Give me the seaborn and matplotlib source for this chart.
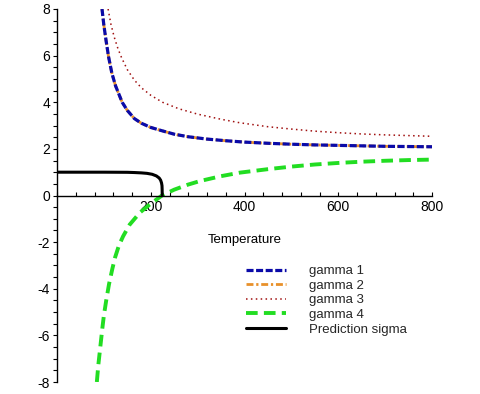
import numpy as np
import pandas as pd
import matplotlib
matplotlib.use("Agg")
import matplotlib.pyplot as plt
from matplotlib.ticker import MultipleLocator
import seaborn as sns

# values
t_gamma1 = [96, 100, 105, 110, 117, 125, 139, 150, 165, 180, 200, 220, 250, 280, 320,
            360, 400, 450, 500, 550, 600, 650, 700, 750, 800]
v_gamma1 = [8.0, 7.3, 6.6, 5.95, 5.25, 4.7, 4.0, 3.65, 3.3, 3.1, 2.92, 2.8, 2.63, 2.52, 2.42,
            2.35, 2.29, 2.24, 2.2, 2.17, 2.15, 2.13, 2.11, 2.1, 2.09]

t_gamma2 = t_gamma1
v_gamma2 = v_gamma1

t_gamma3 = [109, 115, 122, 130, 138, 150, 165, 180, 200, 225, 260, 300, 350, 390, 450,
            500, 550, 603, 650, 700, 750, 800]
v_gamma3 = [8.0, 7.35, 6.8, 6.3, 5.9, 5.4, 4.95, 4.62, 4.3, 4.0, 3.72, 3.49, 3.27, 3.12, 2.95,
            2.85, 2.76, 2.69, 2.64, 2.6, 2.57, 2.54]

t_gamma4 = [85, 88, 91, 94, 97, 100, 105, 111, 118, 124, 132, 141, 155, 177, 200, 224,
            250, 280, 305, 350, 390, 450, 500, 550, 603, 650, 700, 750, 800]
v_gamma4 = [-8.0, -7.3, -6.75, -6.2, -5.65, -5.15, -4.5, -3.8, -3.15, -2.65, -2.15, -1.75,
            -1.25, -0.73, -0.35, 0.0, 0.25, 0.47, 0.62, 0.83, 0.98, 1.13, 1.24, 1.33, 1.4,
            1.45, 1.49, 1.52, 1.54]

t_sigma = [0, 100, 150, 165, 180, 192, 203, 212, 218, 221, 223, 224, 224.3, 224.5]
v_sigma = [1.0, 1.0, 0.995, 0.985, 0.97, 0.95, 0.91, 0.84, 0.75, 0.66, 0.54, 0.42, 0.25, 0.0]

labels = ["gamma 1", "gamma 2", "gamma 3", "gamma 4", "Prediction sigma"]

sns.set_theme(style="white")
plt.rcParams["font.family"] = ["Liberation Sans", "DejaVu Sans"]
plt.rcParams["axes.unicode_minus"] = False

fig = plt.figure(figsize=(4.8, 3.94), dpi=100)
ax = fig.add_axes([57 / 480, 1 - 382 / 394, (432 - 57) / 480, (382 - 9) / 394])

# gamma 2 sits underneath gamma 1
sns.lineplot(x=t_gamma2, y=v_gamma2, ax=ax, sort=False, estimator=None,
             color="#e8902a", lw=2.0, label=labels[1])
sns.lineplot(x=t_gamma1, y=v_gamma1, ax=ax, sort=False, estimator=None,
             color="#0a0aa8", lw=2.3, label=labels[0])
sns.lineplot(x=t_gamma3, y=v_gamma3, ax=ax, sort=False, estimator=None,
             color="#a01010", lw=1.1, label=labels[2])
sns.lineplot(x=t_gamma4, y=v_gamma4, ax=ax, sort=False, estimator=None,
             color="#22dd22", lw=2.8, label=labels[3])
sns.lineplot(x=t_sigma, y=v_sigma, ax=ax, sort=False, estimator=None,
             color="black", lw=2.2, label=labels[4])

lines = ax.get_lines()
lines[0].set_dashes((2.5, 1, 0.8, 1))
lines[1].set_dashes((2.2, 0.8))
lines[2].set_dashes((1, 2.2))
lines[3].set_dashes((3, 1.6))
for ln in lines:
    ln.set_solid_joinstyle("round")
    ln.set_dash_joinstyle("round")

ax.set_xlim(0, 800)
ax.set_ylim(-8, 8)
ax.set_xlabel("")
ax.set_ylabel("")

ax.spines["top"].set_visible(False)
ax.spines["right"].set_visible(False)
ax.spines["bottom"].set_position(("data", 0))
for s in ["left", "bottom"]:
    ax.spines[s].set_color("black")
    ax.spines[s].set_linewidth(1.0)

ax.xaxis.set_major_locator(MultipleLocator(200))
ax.xaxis.set_minor_locator(MultipleLocator(40))
ax.yaxis.set_major_locator(MultipleLocator(2))
ax.yaxis.set_minor_locator(MultipleLocator(0.5))
ax.tick_params(axis="x", which="both", direction="in", length=3, width=0.8,
               colors="black", labelsize=10, pad=3, bottom=True)
ax.tick_params(axis="y", which="both", direction="out", length=3, width=0.8,
               colors="black", labelsize=10, pad=2, left=True)
ax.set_xticks([200, 400, 600, 800])
ax.set_xticklabels(["200", "400", "600", "800"])

ax.text(400, -1.9, "Temperature", ha="center", va="center", fontsize=9.5, color="black")

handles, lbls = ax.get_legend_handles_labels()
order = [lbls.index(l) for l in labels]
ax.legend([handles[i] for i in order], [lbls[i] for i in order],
          loc="upper left", bbox_to_anchor=(246 / 480, 1 - 265 / 394),
          bbox_transform=fig.transFigure, frameon=False, fontsize=9.5,
          handlelength=3.0, handletextpad=1.8, labelspacing=0.18,
          borderpad=0, borderaxespad=0)

fig.savefig("out.png", dpi=100)
